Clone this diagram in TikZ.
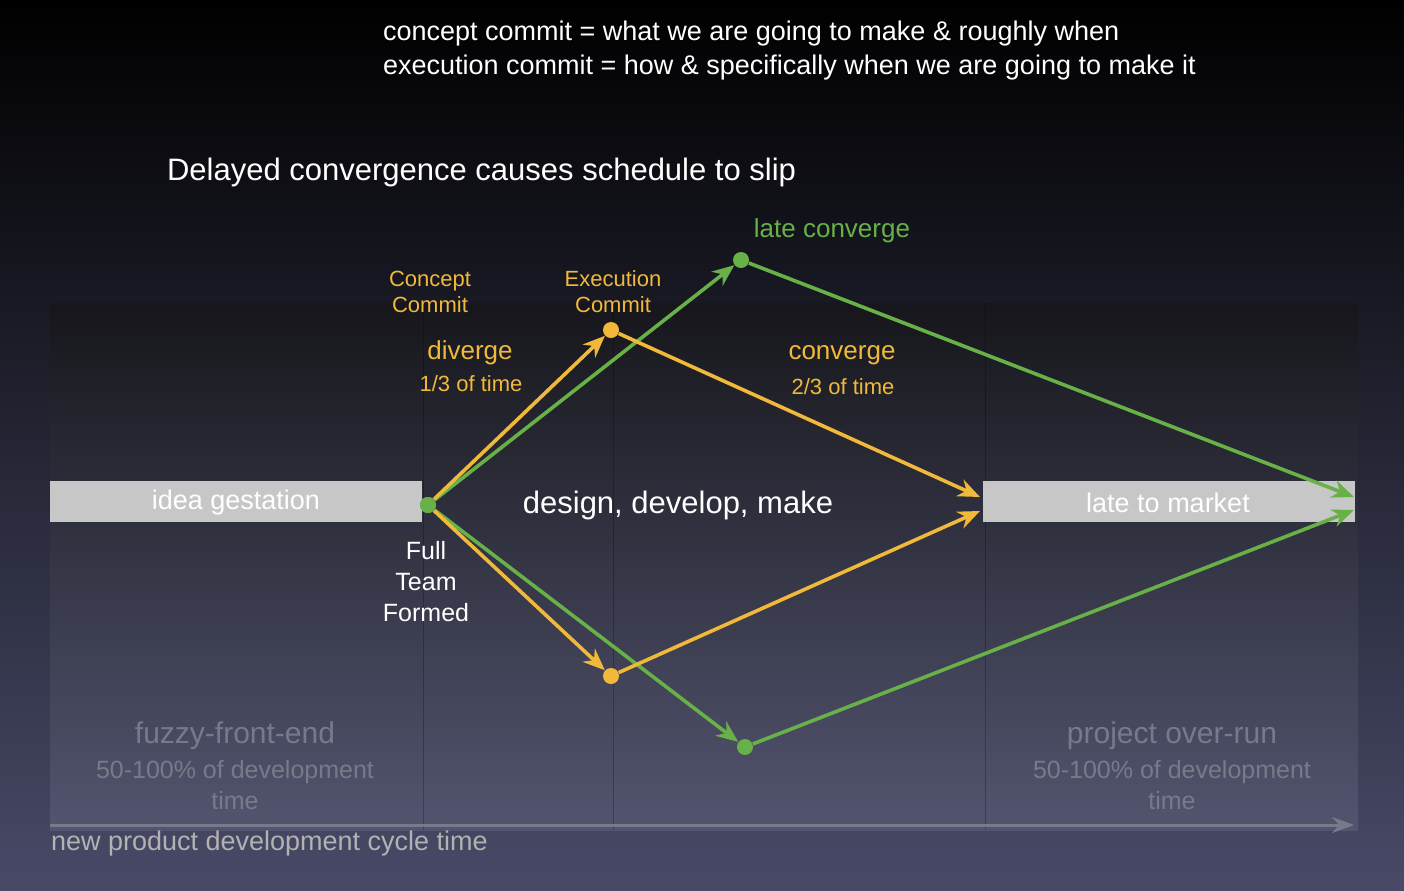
\documentclass[tikz,border=0pt]{standalone}
\usepackage{fontspec}
\setmainfont{Liberation Sans}
\usetikzlibrary{arrows.meta}
\definecolor{yel}{RGB}{240,185,58}
\definecolor{grn}{RGB}{104,176,72}
\definecolor{dim}{RGB}{120,122,140}
\definecolor{bot}{RGB}{72,74,104}
\begin{document}
\begin{tikzpicture}[x=0.5pt,y=-0.5pt,
  yl/.style={yel,line width=1.8pt,-{Stealth[length=11pt,width=9pt]}},
  gl/.style={grn,line width=1.8pt,-{Stealth[length=11pt,width=9pt]}},
  ydot/.style={circle,fill=yel,inner sep=0pt,minimum size=8pt},
  gdot/.style={circle,fill=grn,inner sep=0pt,minimum size=8pt},
  bar/.style={fill=black!22,draw=none},
  wt/.style={text=white,font=\fontsize{13.5}{15}\selectfont},
  ft/.style={font=\fontsize{11}{13}\selectfont,align=center}]
\useasboundingbox (0,0) rectangle (1404,890);
\shade[top color=black,bottom color=bot] (0,0) rectangle (1404,890);
\shade[top color=white!8!black,bottom color=bot!85!white,opacity=0.5] (50,303) rectangle (1358,830);
\foreach \x in {423,613,985}{\draw[black,opacity=0.25] (\x,303)--(\x,830);}
% top texts
\node[wt,anchor=west] (t1) at (376,34) {concept commit = what we are going to make \& roughly when};
\node[wt,anchor=west] (t2) at (376,68) {execution commit = how \& specifically when we are going to make it};
\node[text=white,anchor=west,font=\fontsize{15.5}{18}\selectfont] (t3) at (160,172) {Delayed convergence causes schedule to slip};
% bars
\fill[bar] (50,481) rectangle (422,522);
\fill[bar] (983,481) rectangle (1355,522);
\node[text=white,font=\fontsize{13.5}{15}\selectfont] (ig) at (236,503) {idea gestation};
\node[text=white,font=\fontsize{13.5}{15}\selectfont] (lm) at (1168,503) {late to market};
\node[text=white,font=\fontsize{15.5}{18}\selectfont] (ddm) at (678,505) {design, develop, make};
% nodes
\node[gdot] (s) at (428,505) {};
\node[ydot] (yu) at (611,330) {};
\node[ydot] (yd) at (611,676) {};
\node[gdot] (gu) at (741,260) {};
\node[gdot] (gd) at (745,747) {};
\coordinate (ye1) at (980,497);
\coordinate (ye2) at (980,511);
\coordinate (ge1) at (1354,497);
\coordinate (ge2) at (1354,510);
% arrows
\draw[gl] (s) -- (gu);
\draw[gl] (s) -- (gd);
\draw[gl] (gu) -- (ge1);
\draw[gl] (gd) -- (ge2);
\draw[yl] (s) -- (yu);
\draw[yl] (s) -- (yd);
\draw[yl] (yu) -- (ye1);
\draw[yl] (yd) -- (ye2);
\node[gdot] at (428,505) {};
% labels
\node[text=yel,ft] (cc) at (430,292) {Concept\\Commit};
\node[text=yel,ft] (ec) at (613,292) {Execution\\Commit};
\node[text=yel,font=\fontsize{13}{15}\selectfont] (dv) at (470,353) {diverge};
\node[text=yel,font=\fontsize{11}{13}\selectfont] (dv2) at (471,384) {1/3 of time};
\node[text=yel,font=\fontsize{13}{15}\selectfont] (cv) at (842,355) {converge};
\node[text=yel,font=\fontsize{11}{13}\selectfont] (cv2) at (843,387) {2/3 of time};
\node[text=grn,font=\fontsize{13}{15}\selectfont] (lc) at (832,231) {late converge};
\node[text=white,align=center,font=\fontsize{12.5}{15.5}\selectfont] (ft) at (426,582) {Full\\Team\\Formed};
\node[text=dim,align=center,font=\fontsize{15}{16}\selectfont] (ff) at (235,736) {fuzzy-front-end};
\node[text=dim,align=center,font=\fontsize{12.5}{15.5}\selectfont] (ff2) at (235,785) {50-100\% of development\\time};
\node[text=dim,align=center,font=\fontsize{15}{16}\selectfont] (po) at (1172,736) {project over-run};
\node[text=dim,align=center,font=\fontsize{12.5}{15.5}\selectfont] (po2) at (1172,785) {50-100\% of development\\time};
\coordinate (a0) at (50,825);
\coordinate (a1) at (1354,825);
\draw[dim,line width=1.5pt,-{Stealth[length=11pt,width=8pt]}] (a0)--(a1);
\node[text=black!30,anchor=west,font=\fontsize{13.5}{15}\selectfont] (np) at (44,844) {new product development cycle time};
\end{tikzpicture}
\end{document}
